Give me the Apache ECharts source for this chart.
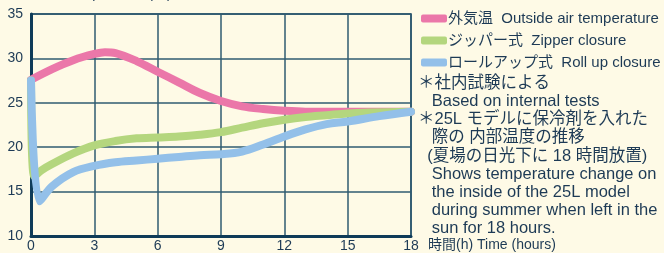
<!DOCTYPE html>
<html>
<head>
<meta charset="utf-8">
<script src="https://cdn.jsdelivr.net/npm/echarts@6/dist/echarts.min.js"></script>
<style>
  html, body { margin: 0; padding: 0; background: #fefae6; }
  #chart { width: 664px; height: 253px; }
</style>
</head>
<body>
<div id="chart"></div>
<script>
// 時間 (h)
const outsideHours = [0, 1, 2, 3, 3.5, 4, 5, 6, 7, 8, 9, 10, 11, 12, 13, 15, 18];
const outsideTemp = [27.6, 28.8, 29.8, 30.5, 30.7, 30.6, 29.7, 28.5, 27.3, 26.1, 25.2, 24.6, 24.3, 24.1, 24.0, 24.0, 24.0];

const zipperHours = [0, 0.15, 0.5, 1, 2, 3, 4, 5, 6, 7, 8, 9, 10, 11, 12, 13, 14, 15, 16, 18];
const zipperTemp = [27.5, 16.7, 17.4, 18.1, 19.3, 20.2, 20.7, 21.0, 21.1, 21.2, 21.4, 21.7, 22.2, 22.7, 23.1, 23.4, 23.6, 23.8, 23.9, 24.0];

const rollHours = [0, 0.4, 1, 2, 3, 4, 5, 6, 7, 8, 9, 10, 11, 12, 13, 14, 15, 16.5, 18];
const rollTemp = [27.5, 13.9, 15.6, 17.2, 17.9, 18.3, 18.5, 18.7, 18.9, 19.1, 19.2, 19.5, 20.3, 21.2, 22.0, 22.6, 22.9, 23.5, 24.0];

const seriesNames = ['外気温  Outside air temperature', 'ジッパー式  Zipper closure', 'ロールアップ式  Roll up closure'];
const seriesColors = ['#eb77a9', '#b4d67e', '#93c0e9'];

const noteLines = [
  '＊社内試験による',
  '   Based on internal tests',
  '＊25L モデルに保冷剤を入れた',
  '   際の 内部温度の推移',
  '  (夏場の日光下に 18 時間放置)',
  '   Shows temperature change on',
  '   the inside of the 25L model',
  '   during summer when left in the',
  '   sun for 18 hours.'
];

const TEXT = '#1d3a55';
const GRID_LINE = '#2f5b70';
const AXIS_LINE = '#0e3b58';
const FONT = '"Liberation Sans", "Noto Sans CJK JP", sans-serif';

function pairs(xs, ys) {
  return xs.map((x, i) => [x, ys[i]]);
}

const chart = echarts.init(document.getElementById('chart'));

chart.setOption({
  backgroundColor: '#fefae6',
  animation: false,
  textStyle: { fontFamily: FONT },
  grid: { left: 31, right: 253, top: 14, bottom: 16, show: true, borderColor: AXIS_LINE, borderWidth: 1.5 },
  legend: {
    orient: 'vertical',
    left: 416,
    top: 6,
    itemWidth: 26,
    itemHeight: 8,
    itemGap: 7,
    icon: 'roundRect',
    data: seriesNames,
    textStyle: { color: TEXT, fontSize: 15, padding: [0, 0, 0, -4] }
  },
  xAxis: {
    type: 'value',
    min: 0,
    max: 18,
    interval: 3,
    axisLine: { lineStyle: { color: AXIS_LINE, width: 3 } },
    axisTick: { show: false },
    axisLabel: { color: TEXT, fontSize: 14, margin: 3 },
    splitLine: { lineStyle: { color: GRID_LINE, width: 1.5 } }
  },
  yAxis: {
    type: 'value',
    min: 10,
    max: 35,
    interval: 5,
    axisLine: { show: true, lineStyle: { color: AXIS_LINE, width: 3 } },
    axisTick: { show: false },
    axisLabel: { color: TEXT, fontSize: 14, margin: 8 },
    splitLine: { lineStyle: { color: GRID_LINE, width: 1.5 } }
  },
  series: [
    { name: seriesNames[0], data: pairs(outsideHours, outsideTemp) },
    { name: seriesNames[1], data: pairs(zipperHours, zipperTemp) },
    { name: seriesNames[2], data: pairs(rollHours, rollTemp) }
  ].map((s, i) => ({
    ...s,
    type: 'line',
    smooth: 0.35,
    showSymbol: false,
    color: seriesColors[i],
    lineStyle: { width: 8, color: seriesColors[i], cap: 'round', join: 'round' }
  })),
  graphic: [
    {
      type: 'text',
      left: 30,
      top: -13,
      style: { text: '温度  Temperature (℃)', fill: TEXT, font: '14px ' + FONT }
    },
    ...noteLines.map((line, i) => ({
      type: 'text',
      left: 418,
      top: 75 + i * 18.2,
      style: { text: line, fill: TEXT, font: '16.5px ' + FONT }
    })),
    {
      type: 'text',
      left: 428,
      top: 238,
      style: { text: '時間(h) Time (hours)', fill: TEXT, font: '14px ' + FONT }
    }
  ]
});
</script>
</body>
</html>
